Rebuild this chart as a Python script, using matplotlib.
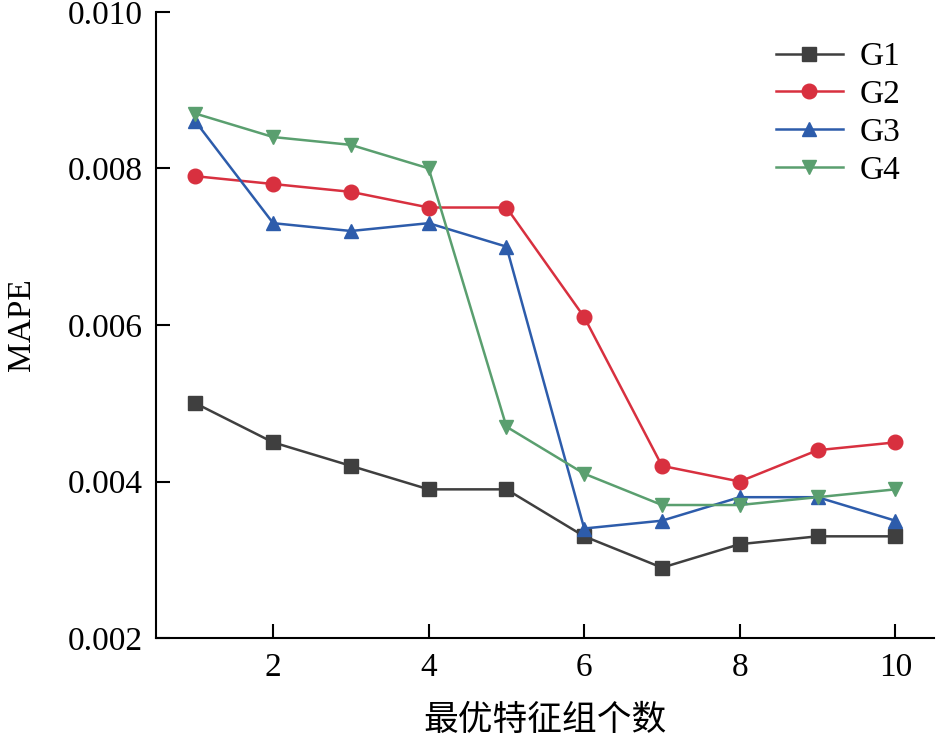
import matplotlib
matplotlib.use("Agg")
import matplotlib.pyplot as plt

plt.rcParams['font.family'] = ['Liberation Serif', 'Noto Sans CJK SC', 'DejaVu Sans']

# number of optimal feature groups
x = [1, 2, 3, 4, 5, 6, 7, 8, 9, 10]

g1 = [0.0050, 0.0045, 0.0042, 0.0039, 0.0039, 0.0033, 0.0029, 0.0032, 0.0033, 0.0033]
g2 = [0.0079, 0.0078, 0.0077, 0.0075, 0.0075, 0.0061, 0.0042, 0.0040, 0.0044, 0.0045]
g3 = [0.0086, 0.0073, 0.0072, 0.0073, 0.0070, 0.0034, 0.0035, 0.0038, 0.0038, 0.0035]
g4 = [0.0087, 0.0084, 0.0083, 0.0080, 0.0047, 0.0041, 0.0037, 0.0037, 0.0038, 0.0039]

series = [
    ("G1", g1, "#3f3f3f", "s"),
    ("G2", g2, "#d8303f", "o"),
    ("G3", g3, "#2d5cab", "^"),
    ("G4", g4, "#5a9f6f", "v"),
]

fig = plt.figure(figsize=(9.37, 7.36), dpi=100)
ax = fig.add_axes([0.167, 0.133, 0.83, 0.851])

for name, vals, col, mk in series:
    ax.plot(x, vals, color=col, marker=mk, markersize=10.5, linewidth=1.8, label=name)

ax.set_xlim(0.5, 10.5)
ax.set_ylim(0.002, 0.010)
ax.set_xticks([2, 4, 6, 8, 10])
ax.set_yticks([0.002, 0.004, 0.006, 0.008, 0.010])
ax.set_yticklabels(["0.002", "0.004", "0.006", "0.008", "0.010"])

ax.spines['top'].set_visible(False)
ax.spines['right'].set_visible(False)
for s in ['left', 'bottom']:
    ax.spines[s].set_linewidth(1.5)
ax.tick_params(direction='in', length=10, width=1.5, labelsize=24, pad=10)

ax.set_xlabel("最优特征组个数", fontsize=25, labelpad=16)
ax.set_ylabel("MAPE", fontsize=24, labelpad=22)

ax.legend(loc='upper right', frameon=False, fontsize=24, handlelength=2.0,
          bbox_to_anchor=(0.995, 1.0), labelspacing=0.22, handletextpad=0.5)

fig.savefig("out.png", dpi=100)
